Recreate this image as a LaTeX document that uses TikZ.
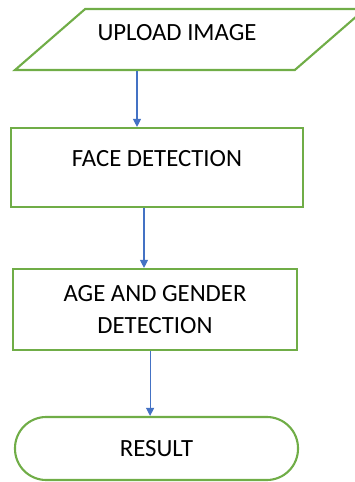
\documentclass[tikz,border=0pt]{standalone}
\usepackage{fontspec}
\setmainfont{Carlito}
\usepackage{tikz}
\usetikzlibrary{positioning, arrows.meta, shapes.geometric}
\definecolor{boxgreen}{HTML}{70AD47}
\definecolor{flowblue}{HTML}{4472C4}
\newcommand{\boxcolor}{boxgreen}
\newcommand{\arrowcolor}{flowblue}

\begin{document}
\begin{tikzpicture}[
      % GLOBAL CFG
      font=\fontsize{17.6pt}{22.7pt}\selectfont,
      >={Triangle[length=0.2cm, width=0.2cm]},
      % Styles
      io/.style={% For the input
        trapezium,
        trapezium stretches body=true,
        trapezium left angle=41,
        trapezium right angle=139,
        draw=\boxcolor,
        line width=1.5pt,
        inner ysep=0pt,
        text height=0.7625cm,
        text depth=0.7625cm,
        minimum width=8.75cm
      },
      proc/.style={% For processing steps
        rectangle,
        draw=\boxcolor,
        line width=1.5pt,
        align=center,
        inner sep=0pt
      },
      term/.style={% For the end
        rectangle,
        rounded corners=0.78cm,
        draw=\boxcolor,
        line width=1.5pt,
        inner sep=0pt
      },
      arrowflow/.style={% Arrows between steps
        draw=\arrowcolor,
        fill=\arrowcolor,
        line width=0.8pt,
        ->
      }
      ]

      \useasboundingbox (0,0) rectangle (8.85,12.05);

      % Draw the steps:
      \node [io, label={[xshift=-0.325cm, yshift=0.1625cm]center:UPLOAD IMAGE}] (upload) at (4.75,11.0625) {};
      \node [proc, minimum width=7.3cm, minimum height=1.975cm, text depth=0.475cm] (face) at (3.925,7.8625) {FACE DETECTION};
      \node [proc, minimum width=7.1cm, minimum height=2.025cm] (agegender) at (3.875,4.3125) {AGE AND GENDER\\DETECTION};
      \node [term, minimum width=7.075cm, minimum height=1.575cm] (result) at (3.9125,0.8375) {RESULT};

      % Connect them
      \draw [arrowflow] ([xshift=-0.5cm]face.north |- upload.south) -- ([xshift=-0.5cm]face.north);
      \draw [arrowflow] ([xshift=-0.275cm]agegender.north |- face.south) -- ([xshift=-0.275cm]agegender.north);
      \draw [arrowflow] ([xshift=-0.16cm]result.north |- agegender.south) -- ([xshift=-0.16cm]result.north);

    \end{tikzpicture}
\end{document}
